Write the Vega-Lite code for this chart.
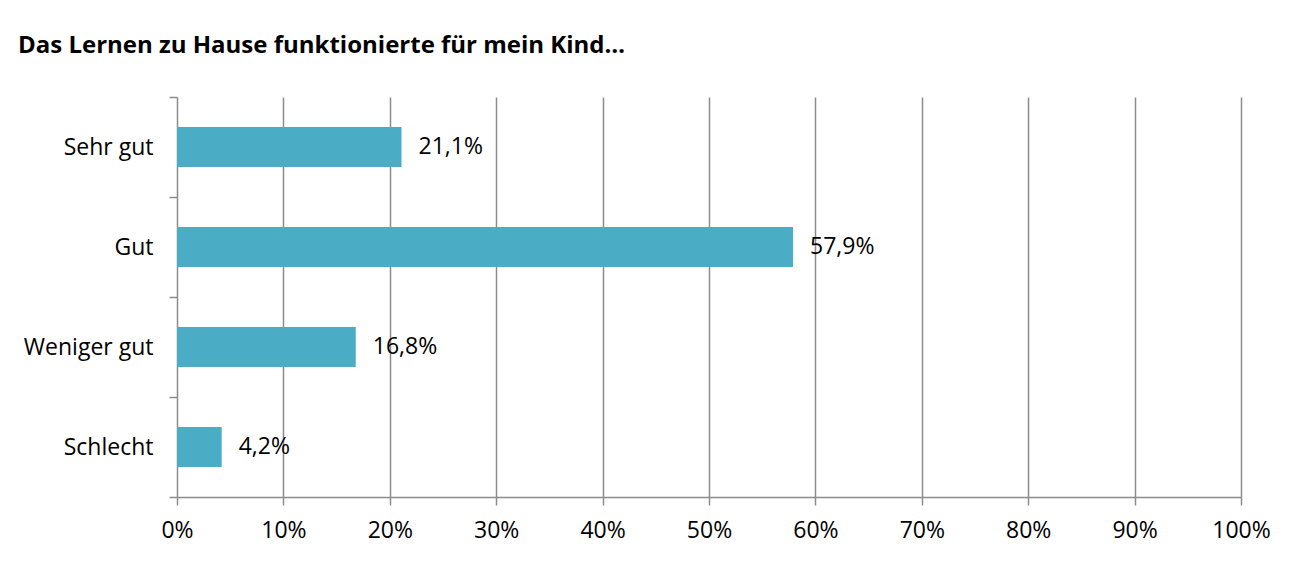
{
  "$schema": "https://vega.github.io/schema/vega-lite/v6.json",
  "autosize": {"type": "none"},
  "width": 1064,
  "height": 400,
  "padding": {"left": 177, "top": 97, "right": 59, "bottom": 64},
  "background": "white",
  "config": {
    "locale": {"number": {"decimal": ",", "thousands": ".", "grouping": [3], "currency": ["", " €"]}},
    "view": {"stroke": null},
    "font": "Open Sans"
  },
  "title": {
    "text": "Das Lernen zu Hause funktionierte für mein Kind…",
    "anchor": "start",
    "frame": "group",
    "dx": -159,
    "offset": 28,
    "font": "Open Sans",
    "fontSize": 24,
    "fontWeight": "bold",
    "color": "black"
  },
  "data": {
    "values": [
      {"Antwort": "Sehr gut", "Anteil": 0.211},
      {"Antwort": "Gut", "Anteil": 0.579},
      {"Antwort": "Weniger gut", "Anteil": 0.168},
      {"Antwort": "Schlecht", "Anteil": 0.042}
    ]
  },
  "encoding": {
    "y": {
      "field": "Antwort",
      "type": "nominal",
      "sort": null,
      "scale": {"paddingInner": 0, "paddingOuter": 0},
      "axis": {
        "title": null,
        "tickBand": "extent",
        "tickSize": 8,
        "tickColor": "#8c8c8c",
        "tickWidth": 1.5,
        "domain": false,
        "labelFont": "Open Sans",
        "labelFontSize": 23,
        "labelColor": "black",
        "labelPadding": 16,
        "grid": false
      }
    },
    "x": {
      "field": "Anteil",
      "type": "quantitative",
      "scale": {"domain": [0, 1], "nice": false},
      "axis": {
        "title": null,
        "format": ".0%",
        "values": [0, 0.1, 0.2, 0.3, 0.4, 0.5, 0.6, 0.7, 0.8, 0.9, 1],
        "grid": true,
        "gridColor": "#8c8c8c",
        "gridWidth": 1.5,
        "gridOpacity": 1,
        "domainColor": "#8c8c8c",
        "domainWidth": 1.5,
        "tickColor": "#8c8c8c",
        "tickWidth": 1.5,
        "tickSize": 8,
        "labelFont": "Open Sans",
        "labelFontSize": 23,
        "labelColor": "black",
        "labelPadding": 14,
        "labelFlush": false
      }
    }
  },
  "layer": [
    {"mark": {"type": "bar", "color": "#4BACC6", "height": {"band": 0.4}}},
    {
      "mark": {"type": "text", "align": "left", "baseline": "middle", "dx": 17, "font": "Open Sans", "fontSize": 23, "color": "black"},
      "encoding": {"text": {"field": "Anteil", "type": "quantitative", "format": ".1%"}}
    }
  ]
}
